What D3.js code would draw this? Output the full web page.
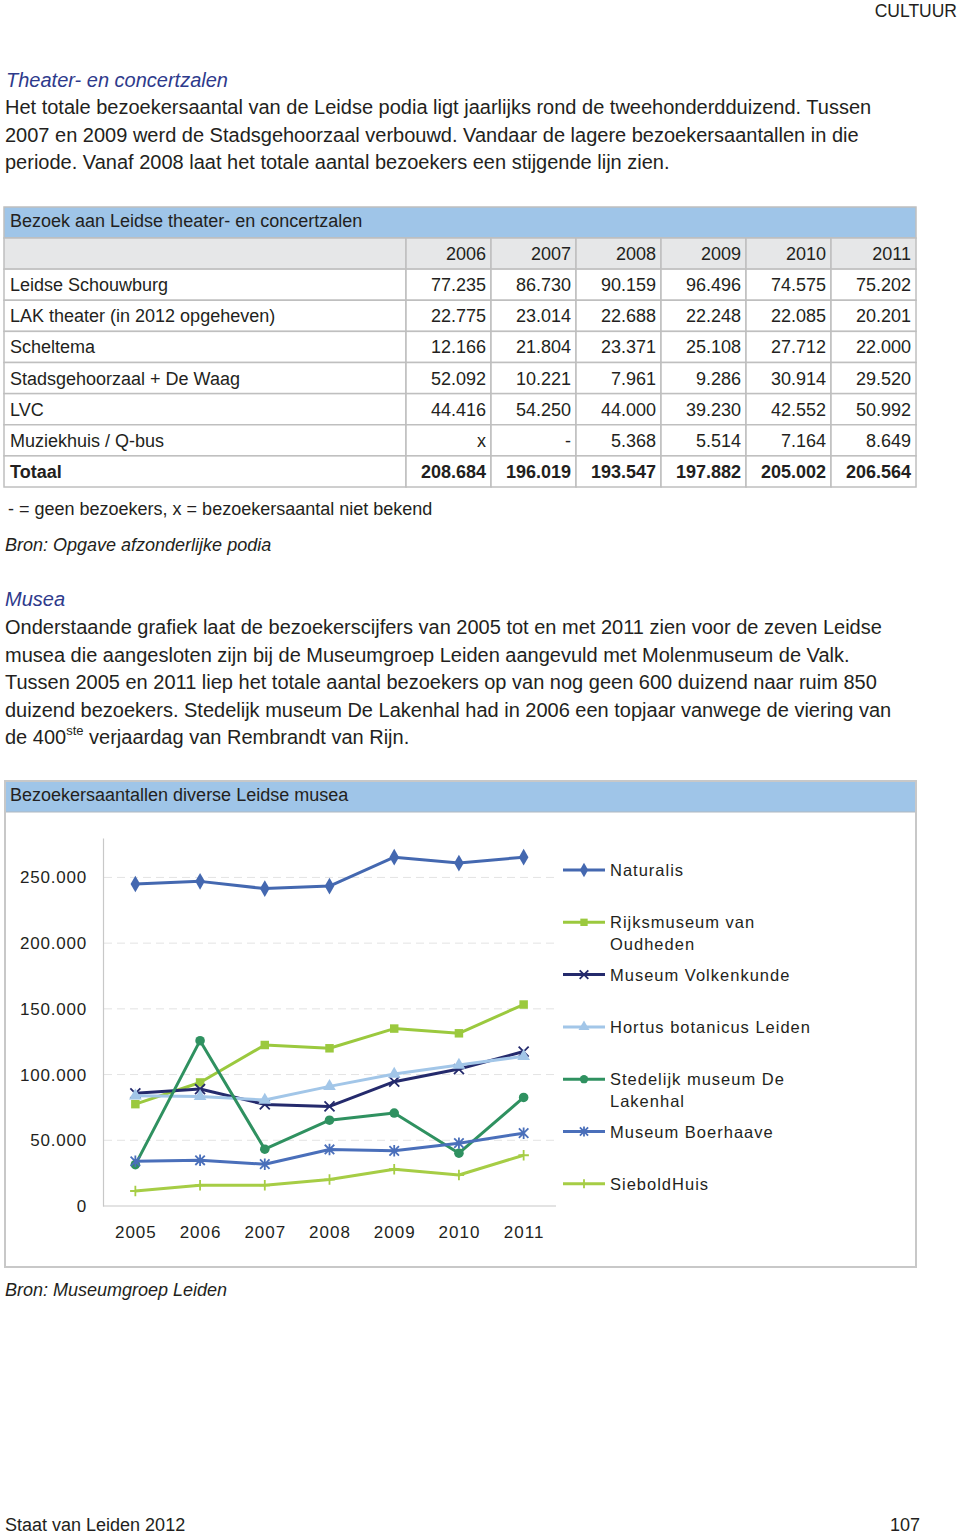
<!DOCTYPE html>
<html><head><meta charset="utf-8">
<script src="https://cdn.jsdelivr.net/npm/d3@7"></script>
<style>
body{margin:0;background:#fff}
svg{display:block}
text{font-family:"Liberation Sans",Arial,Helvetica,sans-serif;fill:#231f20}
</style>
</head><body>
<svg id="page" width="960" height="1535"></svg>
<script>
// ---------- DATA ----------
const tableTitle = "Bezoek aan Leidse theater- en concertzalen";
const tableYears = ["2006","2007","2008","2009","2010","2011"];
const venues = ["Leidse Schouwburg","LAK theater (in 2012 opgeheven)","Scheltema","Stadsgehoorzaal + De Waag","LVC","Muziekhuis / Q-bus"];
const schouwburg = ["77.235","86.730","90.159","96.496","74.575","75.202"];
const lak = ["22.775","23.014","22.688","22.248","22.085","20.201"];
const scheltema = ["12.166","21.804","23.371","25.108","27.712","22.000"];
const stadsgehoorzaal = ["52.092","10.221","7.961","9.286","30.914","29.520"];
const lvc = ["44.416","54.250","44.000","39.230","42.552","50.992"];
const muziekhuis = ["x","-","5.368","5.514","7.164","8.649"];
const totaalLabel = "Totaal";
const totals = ["208.684","196.019","193.547","197.882","205.002","206.564"];

const chartTitle = "Bezoekersaantallen diverse Leidse musea";
const museumYears = ["2005","2006","2007","2008","2009","2010","2011"];
const museumNames = ["Naturalis","Rijksmuseum van|Oudheden","Museum Volkenkunde","Hortus botanicus Leiden","Stedelijk museum De|Lakenhal","Museum Boerhaave","SieboldHuis"];
const naturalis   = [245000,247000,241500,243400,265400,260900,265400];
const rmo         = [77500,94000,122500,120000,135000,131400,153300];
const volkenkunde = [85700,89000,77300,75800,94600,104200,117500];
const hortus      = [83900,83400,80600,91000,100400,107300,113900];
const lakenhal    = [31500,125800,43200,65300,70700,40200,82600];
const boerhaave   = [34000,34800,31800,43000,42000,47800,55400];
const siebold     = [11400,15800,15800,20100,28000,23600,38600];
const yTicks = [0,50000,100000,150000,200000,250000];

// ---------- STYLE ----------
const seriesColors = ["#4468b0","#9bc93e","#242a6c","#a2c6e8","#2f9160","#4a6fba","#a6cd45"];
const headColor = "#2e3a8c";
const barBlue = "#9fc5e8";
const gridGray = "#bfbfbf";

const svg = d3.select("#page");

function txt(x,y,s,opt={}){
  const t = svg.append("text").attr("x",x).attr("y",y).text(s)
    .style("font-size",(opt.size||20)+"px");
  if(opt.anchor) t.attr("text-anchor",opt.anchor);
  if(opt.italic) t.style("font-style","italic");
  if(opt.bold) t.style("font-weight","bold");
  if(opt.color) t.style("fill",opt.color);
  if(opt.ls) t.style("letter-spacing",opt.ls+"px");
  return t;
}

// header
txt(957,16.5,"CULTUUR",{size:17.5,anchor:"end"});
txt(6,87,"Theater- en concertzalen",{italic:true,color:headColor,size:20});
const para1 = ["Het totale bezoekersaantal van de Leidse podia ligt jaarlijks rond de tweehonderdduizend. Tussen",
"2007 en 2009 werd de Stadsgehoorzaal verbouwd. Vandaar de lagere bezoekersaantallen in die",
"periode. Vanaf 2008 laat het totale aantal bezoekers een stijgende lijn zien."];
para1.forEach((l,i)=>txt(5,114+i*27.5,l,{size:20}));

// ---------- TABLE ----------
const tL=4, tR=916, labelR=406;
svg.append("rect").attr("x",tL).attr("y",207).attr("width",tR-tL).attr("height",31)
  .attr("fill",barBlue).attr("stroke",gridGray).attr("stroke-width",1.5);
txt(10,227,tableTitle,{size:18});
const rowKeys = ["__head"].concat(venues,[totaalLabel]);
const rowVals = [tableYears,schouwburg,lak,scheltema,stadsgehoorzaal,lvc,muziekhuis,totals];
const ry = d3.scaleBand().domain(rowKeys).range([238,487]);
const cx = d3.scaleBand().domain(tableYears).range([labelR,tR]);
rowKeys.forEach((k,i)=>{
  const y0 = ry(k), h = ry.bandwidth();
  const fill = i===0 ? "#e6e7e8" : "#ffffff";
  svg.append("rect").attr("x",tL).attr("y",y0).attr("width",labelR-tL).attr("height",h)
    .attr("fill",fill).attr("stroke",gridGray).attr("stroke-width",1.5);
  tableYears.forEach((yr,j)=>{
    svg.append("rect").attr("x",cx(yr)).attr("y",y0).attr("width",cx.bandwidth()).attr("height",h)
      .attr("fill",fill).attr("stroke",gridGray).attr("stroke-width",1.5);
    txt(cx(yr)+cx.bandwidth()-5,y0+h/2+6.5,rowVals[i][j],{size:18,anchor:"end",bold:k===totaalLabel});
  });
  if(i>0) txt(10,y0+h/2+6.5,k,{size:18,bold:k===totaalLabel});
});

txt(8,515,"- = geen bezoekers, x = bezoekersaantal niet bekend",{size:18});
txt(5,551,"Bron: Opgave afzonderlijke podia",{size:18,italic:true});

// Musea text
txt(5,606,"Musea",{italic:true,color:headColor,size:20});
const para2 = ["Onderstaande grafiek laat de bezoekerscijfers van 2005 tot en met 2011 zien voor de zeven Leidse",
"musea die aangesloten zijn bij de Museumgroep Leiden aangevuld met Molenmuseum de Valk.",
"Tussen 2005 en 2011 liep het totale aantal bezoekers op van nog geen 600 duizend naar ruim 850",
"duizend bezoekers. Stedelijk museum De Lakenhal had in 2006 een topjaar vanwege de viering van"];
para2.forEach((l,i)=>txt(5,634+i*27.5,l,{size:20}));
const last = txt(5,634+4*27.5,"de 400",{size:20});
last.append("tspan").attr("dy",-9).style("font-size","13px").text("ste");
last.append("tspan").attr("dy",9).text(" verjaardag van Rembrandt van Rijn.");

// ---------- CHART ----------
svg.append("rect").attr("x",5).attr("y",781).attr("width",911).attr("height",486)
  .attr("fill","#fff").attr("stroke","#c8c8c8").attr("stroke-width",2);
svg.append("rect").attr("x",6).attr("y",782).attr("width",909).attr("height",30)
  .attr("fill",barBlue);
svg.append("line").attr("x1",6).attr("x2",915).attr("y1",812).attr("y2",812)
  .attr("stroke","#b0b8c0").attr("stroke-width",1);
txt(10,801,chartTitle,{size:18});

const x = d3.scalePoint().domain(museumYears).range([103,556]).padding(0.5);
const y = d3.scaleLinear().domain([0,280000]).range([1206,838]);
const nl = d3.formatLocale({decimal:",",thousands:".",grouping:[3],currency:["€",""]});
const fmt = nl.format(",");

// gridlines
svg.append("g").selectAll("line").data(yTicks.filter(d=>d>0)).join("line")
  .attr("x1",104).attr("x2",556).attr("y1",d=>y(d)).attr("y2",d=>y(d))
  .attr("stroke","#e3e3e3").attr("stroke-width",1).attr("stroke-dasharray","8,5");

const yAxis = svg.append("g").attr("transform","translate(103,0)")
  .call(d3.axisLeft(y).tickValues(yTicks).tickFormat(fmt).tickSize(0).tickPadding(16));
yAxis.select(".domain").attr("stroke","#c8c8c8").attr("stroke-width",1.2);
yAxis.selectAll("text").style("font-size","17px").style("letter-spacing","0.8px")
  .style("font-family","'Liberation Sans',Arial,sans-serif").attr("fill","#231f20");

const xAxis = svg.append("g").attr("transform","translate(0,1206)")
  .call(d3.axisBottom(x).tickSize(0).tickPadding(20).tickSizeOuter(0));
xAxis.select(".domain").attr("stroke","#c8c8c8").attr("stroke-width",1.2)
  .attr("d","M103,0H556");
xAxis.selectAll("text").style("font-size","17px").style("letter-spacing","1px")
  .style("font-family","'Liberation Sans',Arial,sans-serif").attr("fill","#231f20");

// symbols
const symTimes = {draw(c,s){const r=Math.sqrt(s)/2;c.moveTo(-r,-r);c.lineTo(r,r);c.moveTo(r,-r);c.lineTo(-r,r);}};
const symPlus = {draw(c,s){const r=Math.sqrt(s)/2;c.moveTo(-r,0);c.lineTo(r,0);c.moveTo(0,-r);c.lineTo(0,r);}};
const symAst = {draw(c,s){const r=Math.sqrt(s)/2;c.moveTo(-r,-r);c.lineTo(r,r);c.moveTo(r,-r);c.lineTo(-r,r);c.moveTo(0,-r*1.2);c.lineTo(0,r*1.2);}};
const markers = [
  {type:d3.symbolDiamond,size:80,fill:true},
  {type:d3.symbolSquare,size:72,fill:true},
  {type:symTimes,size:100,fill:false},
  {type:d3.symbolTriangle,size:70,fill:true},
  {type:d3.symbolCircle,size:72,fill:true},
  {type:symAst,size:90,fill:false},
  {type:symPlus,size:110,fill:false}
];
const allSeries = [naturalis,rmo,volkenkunde,hortus,lakenhal,boerhaave,siebold];
const line = d3.line().x((d,i)=>x(museumYears[i])).y(d=>y(d));

function drawMarker(g,m,col,px,py){
  const p = g.append("path").attr("d",d3.symbol().type(m.type).size(m.size)())
    .attr("transform",`translate(${px},${py})`);
  if(m.fill) p.attr("fill",col).attr("stroke","none");
  else p.attr("fill","none").attr("stroke",col).attr("stroke-width",1.8);
}

allSeries.forEach((vals,si)=>{
  const col = seriesColors[si];
  const g = svg.append("g");
  g.append("path").attr("d",line(vals)).attr("fill","none").attr("stroke",col)
    .attr("stroke-width",3).attr("stroke-linejoin","round");
  vals.forEach((v,i)=>drawMarker(g,markers[si],col,x(museumYears[i]),y(v)));
});

// legend
museumNames.forEach((name,i)=>{
  const ly = 870 + i*52.3;
  const col = seriesColors[i];
  const g = svg.append("g");
  g.append("line").attr("x1",563).attr("x2",605).attr("y1",ly).attr("y2",ly)
    .attr("stroke",col).attr("stroke-width",3);
  const m = Object.assign({},markers[i],{size:markers[i].size*0.75});
  drawMarker(g,m,col,584,ly);
  name.split("|").forEach((part,k)=>{
    txt(610,ly+6+k*22,part,{size:16.5,ls:1});
  });
});

txt(5,1296,"Bron: Museumgroep Leiden",{size:18,italic:true});

// footer
txt(5,1531,"Staat van Leiden 2012",{size:18});
txt(920,1531,"107",{size:18,anchor:"end"});
</script>
</body></html>
